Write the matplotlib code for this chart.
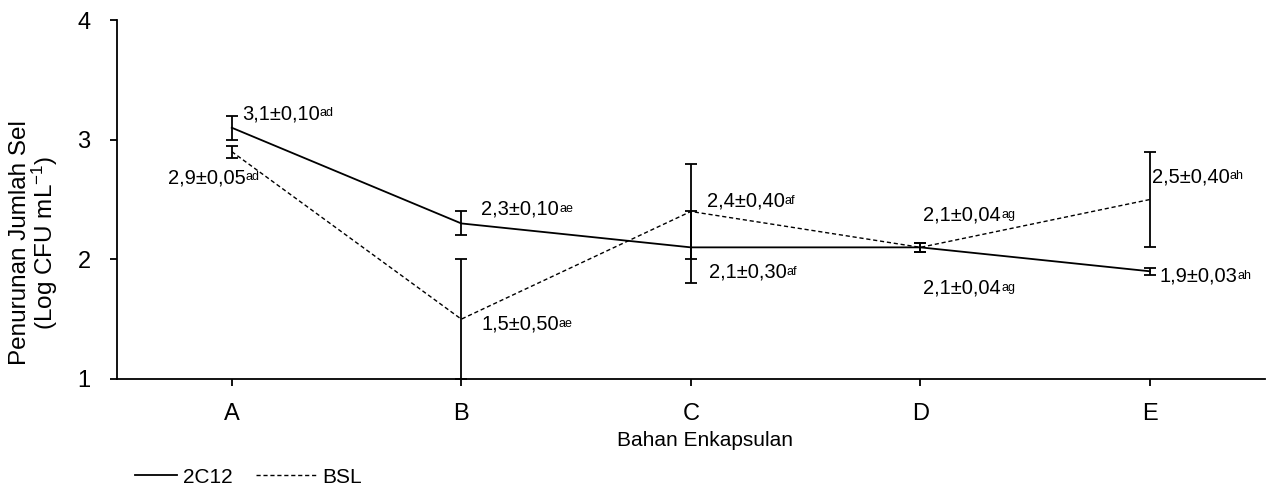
import matplotlib
matplotlib.use('Agg')
import matplotlib.pyplot as plt
from matplotlib.lines import Line2D

plt.rcParams['font.family'] = ['Liberation Sans', 'DejaVu Sans']
plt.rcParams['mathtext.fontset'] = 'custom'
plt.rcParams['mathtext.rm'] = 'Liberation Sans'
plt.rcParams['mathtext.default'] = 'regular'

# encapsulation materials
categories = ['A', 'B', 'C', 'D', 'E']

# decrease in cell count (log CFU/mL)
mean_2c12 = [3.1, 2.3, 2.1, 2.1, 1.9]
sd_2c12 = [0.10, 0.10, 0.30, 0.04, 0.03]
mean_bsl = [2.9, 1.5, 2.4, 2.1, 2.5]
sd_bsl = [0.05, 0.50, 0.40, 0.04, 0.40]
letters_2c12 = ['ad', 'ae', 'af', 'ag', 'ah']
letters_bsl = ['ad', 'ae', 'af', 'ag', 'ah']

# label offsets in pixels (dx, dy, ha)
off_2c12 = [(10, 14, 'left'), (20, 14, 'left'), (18, -25, 'left'), (3, -41, 'left'), (10, -5, 'left')]
off_bsl = [(26, -26, 'right'), (20, -5, 'left'), (16, 10, 'left'), (3, 32, 'left'), (2, 23, 'left')]

fig = plt.figure(figsize=(12.66, 4.86), dpi=100)
ax = fig.add_axes([0.0924, 0.2202, 0.9066, 0.7386])

x = list(range(len(categories)))
ax.errorbar(x, mean_2c12, yerr=sd_2c12, color='black', lw=1.3, capsize=4.3,
            capthick=1.3, elinewidth=1.3, ls='-')
ax.errorbar(x, mean_bsl, yerr=sd_bsl, color='black', lw=1.0, capsize=4.3,
            capthick=1.3, elinewidth=1.3, ls=(0, (3, 2)))


def add_label(xi, v, s, sup, dx, dy, ha):
    txt = f'{v:.1f}±{s:.2f}'.replace('.', ',')
    if ha == 'right':
        # leave room for the superscript on the right
        dx -= 12
    t = ax.annotate(txt, (xi, v), xytext=(dx, dy), textcoords='offset pixels',
                    ha=ha, va='center', fontsize=14.5)
    ax.annotate(sup, xy=(1, 1), xycoords=t, xytext=(0, -3), textcoords='offset pixels',
                ha='left', va='top', fontsize=9)


for xi, v, s, sup, (dx, dy, ha) in zip(x, mean_2c12, sd_2c12, letters_2c12, off_2c12):
    add_label(xi, v, s, sup, dx, dy, ha)
for xi, v, s, sup, (dx, dy, ha) in zip(x, mean_bsl, sd_bsl, letters_bsl, off_bsl):
    add_label(xi, v, s, sup, dx, dy, ha)

ax.set_xlim(-0.5, 4.5)
ax.set_ylim(1, 4)
ax.set_yticks([1, 2, 3, 4])
ax.set_xticks(x)
ax.set_xticklabels(categories)
ax.spines['top'].set_visible(False)
ax.spines['right'].set_visible(False)
for sp in ['left', 'bottom']:
    ax.spines[sp].set_linewidth(1.3)
ax.tick_params(axis='both', direction='out', length=5, width=1.3, labelsize=17)
ax.tick_params(axis='y', pad=14)
ax.tick_params(axis='x', pad=12)

fig.text(0.027, 0.5, 'Penurunan Jumlah Sel\n(Log CFU mL$^{-1}$)', rotation=90,
         ha='center', va='center', fontsize=17.5, linespacing=0.95,
         multialignment='center')
fig.text(0.557, 0.094, 'Bahan Enkapsulan', ha='center', va='center', fontsize=15)

# legend entries drawn separately so each line sample keeps its own length
leg1 = fig.legend([Line2D([], [], color='black', lw=1.3)], ['2C12'], loc='center left',
                  bbox_to_anchor=(0.1066, 0.018), frameon=False, fontsize=15,
                  handlelength=2.0, handletextpad=0.3, borderpad=0, borderaxespad=0)
leg2 = fig.legend([Line2D([], [], color='black', lw=1.0, ls=(0, (3, 2)))], ['BSL'],
                  loc='center left', bbox_to_anchor=(0.2022, 0.018), frameon=False,
                  fontsize=15, handlelength=2.9, handletextpad=0.3, borderpad=0,
                  borderaxespad=0)

fig.savefig('out.png', dpi=100)
